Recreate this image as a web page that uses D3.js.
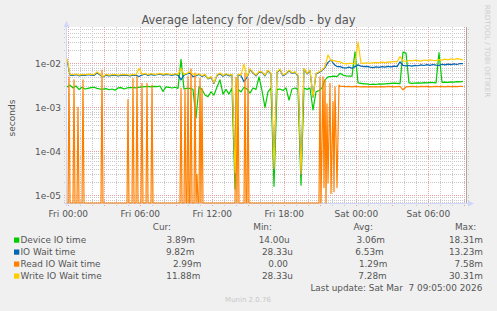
<!DOCTYPE html>
<html>
<head>
<meta charset="utf-8">
<script src="https://cdn.jsdelivr.net/npm/d3@7"></script>
<style>
  body { margin: 0; background: #f0f0f0; }
  text { font-family: "DejaVu Sans", sans-serif; }
</style>
</head>
<body>
<svg id="chart" width="497" height="311"></svg>
<script>
// samples every 15 minutes, values in milliseconds (plotted as seconds)
var startTime = new Date(2026, 2, 5, 23, 53, 20);
var stepSec = 900;

var deviceIO = [
  2.9, 3.2, 2.75, 3.05, 2.55, 2.85, 2.6, 2.7, 2.8, 2.85,
  2.7, 2.6, 2.6, 2.65, 2.5, 2.6, 2.45, 2.75, 2.8, 2.6,
  2.75, 2.8, 2.8, 2.75, 2.85, 2.9, 2.95, 3.0, 2.9, 3.0,
  2.95, 3.05, 2.3, 2.9, 2.85, 2.75, 2.85, 2.7, 12.3, 2.6,
  2.7, 2.7, 2.55, 0.57, 2.9, 2.55, 1.9, 1.75, 2.25, 1.9,
  2.9, 4.2, 2.0, 2.55, 2.0, 2.75, 0.014, 2.55, 2.25, 2.85,
  2.6, 2.1, 2.75, 2.55, 4.9, 2.4, 1.0, 2.25, 2.75, 0.016,
  2.55, 2.6, 2.4, 2.75, 1.46, 2.6, 2.75, 2.55, 0.017, 2.75,
  2.55, 2.75, 0.87, 2.25, 2.4, 2.75, 4.2, 4.9, 5.0, 5.1,
  5.0, 5.9, 5.4, 5.2, 5.1, 5.1, 18.3, 3.6, 3.5, 3.4,
  3.4, 3.3, 3.35, 3.3, 3.4, 3.35, 3.4, 3.45, 3.5, 3.55,
  3.5, 3.45, 18.0, 17.0, 3.6, 3.5, 3.55, 3.6, 3.55, 3.65,
  3.6, 3.7, 3.65, 3.6, 17.4, 3.7, 3.75, 3.7, 3.8, 3.75,
  3.85, 3.8, 3.89
];

var ioWait = [
  12.0, 5.4, 5.3, 5.5, 5.2, 5.4, 5.3, 5.5, 5.4, 5.3,
  6.1, 5.4, 4.9, 5.4, 5.2, 5.3, 5.4, 5.2, 5.3, 5.4,
  5.3, 5.2, 5.4, 5.3, 5.0, 5.4, 5.7, 5.3, 5.6, 5.4,
  5.5, 5.7, 5.4, 5.6, 5.5, 5.3, 5.6, 5.4, 4.2, 5.4,
  5.7, 6.0, 5.0, 5.2, 5.6, 5.0, 5.4, 4.4, 4.8, 3.5,
  5.3, 5.8, 5.1, 5.6, 5.2, 5.4, 0.031, 5.5, 5.2, 3.8,
  4.8, 7.2, 6.0, 5.2, 6.3, 6.2, 5.2, 6.8, 5.7, 0.039,
  6.2, 7.1, 5.2, 5.7, 6.8, 5.9, 6.2, 5.2, 0.029, 7.5,
  5.7, 6.8, 1.7, 5.7, 6.2, 6.8, 8.0, 10.5, 11.9, 9.5,
  8.4, 8.4, 8.0, 7.8, 8.2, 7.7, 8.4, 9.2, 8.6, 8.4,
  8.5, 8.2, 8.0, 8.3, 8.1, 8.4, 8.2, 8.5, 8.3, 8.6,
  8.4, 10.8, 9.0, 8.7, 8.9, 8.6, 9.0, 8.8, 9.2, 8.9,
  9.3, 9.0, 9.4, 9.1, 8.9, 9.5, 9.2, 9.6, 9.3, 9.7,
  9.4, 9.9, 9.82
];

// read wait is mostly idle: [minutes after start, ms]
var readWait = [
  [0, 0], [5, 0], [10, 4.9], [15, 0], [30, 0], [35, 4.2], [40, 0],
  [50, 0], [55, 1.0], [60, 0], [75, 0], [80, 4.2], [85, 0],
  [170, 0], [175, 7.0], [180, 0], [300, 0], [305, 1.5], [310, 0],
  [325, 0], [330, 4.5], [335, 0], [345, 0], [350, 5.0], [355, 0],
  [370, 0], [375, 3.5], [380, 0], [395, 0], [400, 3.5], [405, 0],
  [420, 0], [425, 3.2], [430, 0],
  [565, 0], [570, 2.7], [575, 0], [585, 0], [590, 2.5], [595, 0],
  [600, 0], [605, 5.0], [610, 0], [615, 0], [620, 7.5], [625, 0],
  [635, 0], [640, 6.0], [645, 0], [650, 0.03], [655, 0],
  [660, 0], [665, 4.6], [670, 0], [675, 2.7], [680, 0],
  [840, 0], [845, 4.8], [850, 0], [855, 4.0], [860, 0],
  [885, 0], [890, 6.0], [895, 0], [900, 0], [905, 4.5], [910, 0],
  [1260, 0], [1265, 4.9], [1270, 0], [1280, 4.95], [1285, 0.015],
  [1290, 4.2], [1295, 0], [1300, 1.2], [1305, 0.019], [1315, 3.5],
  [1320, 0.011], [1330, 1.34], [1335, 0.012], [1340, 2.9], [1350, 0.015],
  [1360, 3.2], [1365, 3.0], [1380, 3.0], [1395, 2.95], [1410, 3.0],
  [1425, 2.9], [1440, 3.0], [1455, 2.95], [1470, 2.9], [1485, 2.95],
  [1500, 2.9], [1515, 2.95], [1530, 2.9], [1545, 2.95], [1560, 2.9],
  [1575, 2.95], [1590, 2.9], [1605, 3.0], [1620, 2.95], [1635, 2.9],
  [1650, 2.95], [1665, 3.0], [1680, 2.5], [1695, 2.9], [1710, 2.95],
  [1725, 3.0], [1740, 2.95], [1755, 2.9], [1770, 3.0], [1785, 2.95],
  [1800, 3.0], [1815, 2.9], [1830, 2.95], [1845, 3.0], [1860, 2.95],
  [1875, 3.0], [1890, 2.9], [1905, 3.0], [1920, 2.95], [1935, 3.0],
  [1950, 2.95], [1965, 3.0], [1980, 2.99]
];

var writeWait = [
  13.0, 5.6, 5.5, 5.7, 5.4, 5.6, 5.5, 5.7, 5.6, 5.5,
  6.4, 5.6, 5.0, 5.6, 5.4, 5.5, 5.6, 5.4, 5.5, 5.6,
  5.5, 5.4, 5.6, 5.5, 7.7, 5.6, 5.9, 5.5, 5.8, 5.6,
  5.7, 5.9, 5.6, 5.8, 5.7, 5.5, 5.8, 5.6, 7.6, 5.6,
  5.9, 6.4, 5.7, 5.4, 5.8, 5.2, 5.6, 4.5, 5.0, 3.6,
  5.5, 6.0, 5.3, 5.8, 5.4, 5.6, 0.032, 5.7, 5.4, 9.6,
  5.0, 7.5, 6.2, 5.4, 6.5, 6.4, 5.4, 7.0, 5.9, 0.04,
  6.4, 7.3, 5.4, 5.9, 7.0, 6.1, 6.4, 5.4, 0.03, 7.7,
  5.9, 7.0, 1.75, 5.9, 6.4, 7.0, 8.4, 15.5, 11.5, 11.5,
  10.9, 10.9, 10.0, 9.7, 10.0, 10.0, 9.7, 30.3, 10.2, 10.0,
  10.3, 10.0, 10.3, 10.5, 10.2, 10.6, 10.4, 10.8, 10.6, 11.0,
  10.8, 14.2, 11.4, 11.0, 11.6, 11.3, 11.8, 11.5, 11.2, 11.9,
  11.6, 12.0, 11.7, 11.5, 12.1, 11.8, 12.4, 12.0, 12.6, 12.2,
  12.8, 12.4, 11.88
];

var seriesNames = ["Device IO time", "IO Wait time", "Read IO Wait time", "Write IO Wait time"];
var seriesColors = ["#00cc00", "#0066b3", "#ff8000", "#ffcc00"];

// legend statistics, seconds
var curStats = [3.89e-3, 9.82e-3, 2.99e-3, 11.88e-3];
var minStats = [14.00e-6, 28.33e-6, 0, 28.33e-6];
var avgStats = [3.06e-3, 6.53e-3, 1.29e-3, 7.28e-3];
var maxStats = [18.31e-3, 13.23e-3, 7.58e-3, 30.31e-3];
var statHeaders = ["Cur:", "Min:", "Avg:", "Max:"];
var lastUpdate = "Last update: Sat Mar  7 09:05:00 2026";

var svg = d3.select("#chart");
var plot = {left: 67, top: 27, right: 467, bottom: 203};

var x = d3.scaleTime()
    .domain([startTime, new Date(+startTime + 400 * 300 * 1000)])
    .range([plot.left, plot.right]);

var y = d3.scaleLog()
    .domain([Math.pow(10, -5.175), Math.pow(10, -1.175)])
    .range([plot.bottom, plot.top]);

// canvas
svg.append("rect")
    .attr("x", plot.left).attr("y", plot.top)
    .attr("width", plot.right - plot.left).attr("height", plot.bottom - plot.top)
    .attr("fill", "#ffffff");

// grid: decades major, 2..9 minor; hours minor, every 3h major
var minorY = [], majorY = [];
for (var k = -6; k <= -1; k++) {
  for (var m = 1; m <= 9; m++) {
    var v = m * Math.pow(10, k);
    if (v < y.domain()[0] || v > y.domain()[1]) continue;
    if (m === 1) majorY.push(v); else minorY.push(v);
  }
}
var hours = d3.timeHour.range(x.domain()[0], x.domain()[1]);
var minorX = hours.filter(function(d) { return d.getHours() % 3 !== 0; });
var majorX = hours.filter(function(d) { return d.getHours() % 3 === 0; });

function hy(v) { return Math.round(y(v)) + 0.5; }
function vx(t) { return Math.round(x(t)) + 0.5; }

svg.append("g").selectAll("line").data(minorY).enter().append("line")
    .attr("x1", 64).attr("x2", 470)
    .attr("y1", hy).attr("y2", hy)
    .attr("stroke", "#c8c8c8").attr("stroke-dasharray", "1,1");

svg.append("g").selectAll("line").data(minorX).enter().append("line")
    .attr("x1", vx).attr("x2", vx)
    .attr("y1", plot.top).attr("y2", plot.bottom + 3)
    .attr("stroke", "#c8c8c8").attr("stroke-dasharray", "1,1");

svg.append("g").selectAll("line").data(majorY).enter().append("line")
    .attr("x1", 64).attr("x2", 470)
    .attr("y1", hy).attr("y2", hy)
    .attr("stroke", "#eaa0a0").attr("stroke-dasharray", "1,1");

svg.append("g").selectAll("line").data(majorX).enter().append("line")
    .attr("x1", vx).attr("x2", vx)
    .attr("y1", plot.top).attr("y2", plot.bottom + 3)
    .attr("stroke", "#eaa0a0").attr("stroke-dasharray", "1,1");

// axes + arrows
svg.append("line")
    .attr("x1", 64).attr("x2", 470)
    .attr("y1", plot.bottom + 0.5).attr("y2", plot.bottom + 0.5)
    .attr("stroke", "#cfd6f8");
svg.append("line")
    .attr("x1", plot.left - 0.5).attr("x2", plot.left - 0.5)
    .attr("y1", plot.bottom + 3).attr("y2", 24)
    .attr("stroke", "#cfd6f8");
svg.append("path")
    .attr("d", "M468,200.5L474,203.5L468,206.5Z")
    .attr("fill", "#cfd6f8");
svg.append("path")
    .attr("d", "M63.5,27L66.5,21L69.5,27Z")
    .attr("fill", "#cfd6f8");
svg.append("line")
    .attr("x1", 466.5).attr("x2", 466.5)
    .attr("y1", plot.top).attr("y2", plot.bottom)
    .attr("stroke", "#a8a8a8");

// tick labels
var labelHours = hours.filter(function(d) { return d.getHours() % 6 === 0; });
var fmt = d3.timeFormat("%a %H:%M");
svg.append("g").selectAll("text").data(labelHours).enter().append("text")
    .attr("x", function(d) { return x(d); })
    .attr("y", 217)
    .attr("text-anchor", "middle")
    .attr("font-size", "9px")
    .attr("fill", "#555")
    .text(fmt);

svg.append("g").selectAll("text").data(majorY).enter().append("text")
    .attr("x", 61)
    .attr("y", function(d) { return y(d) + 3.4; })
    .attr("text-anchor", "end")
    .attr("font-size", "9px")
    .attr("fill", "#555")
    .text(function(d) {
      var e = Math.round(Math.log10(d));
      return "1e-" + String(-e).padStart(2, "0");
    });

// data lines
svg.append("clipPath").attr("id", "plotclip")
  .append("rect")
    .attr("x", plot.left).attr("y", plot.top - 1)
    .attr("width", plot.right - plot.left).attr("height", plot.bottom - plot.top + 2);

function yv(d) { return d > 0 ? y(d / 1000) : plot.bottom; }

var gridLine = d3.line()
    .x(function(d, i) { return x(new Date(+startTime + i * stepSec * 1000)); })
    .y(yv);

var pairLine = d3.line()
    .x(function(d) { return x(new Date(+startTime + d[0] * 60000)); })
    .y(function(d) { return yv(d[1]); });

var allSeries = [
  {d: gridLine(deviceIO), c: seriesColors[0]},
  {d: gridLine(ioWait), c: seriesColors[1]},
  {d: pairLine(readWait), c: seriesColors[2]},
  {d: gridLine(writeWait), c: seriesColors[3]}
];
svg.append("g").attr("clip-path", "url(#plotclip)")
  .selectAll("path").data(allSeries).enter().append("path")
    .attr("d", function(s) { return s.d; })
    .attr("fill", "none")
    .attr("stroke", function(s) { return s.c; })
    .attr("stroke-width", 1.2)
    .attr("stroke-linejoin", "round");

// titles
svg.append("text")
    .attr("x", 248.5).attr("y", 23.7)
    .attr("text-anchor", "middle")
    .attr("font-size", "11.4px")
    .attr("fill", "#555")
    .text("Average latency for /dev/sdb - by day");

svg.append("text")
    .attr("transform", "translate(15,118) rotate(-90)")
    .attr("text-anchor", "middle")
    .attr("font-size", "9px")
    .attr("fill", "#555")
    .text("seconds");

svg.append("text")
    .attr("transform", "translate(484.5,51) rotate(90)")
    .attr("text-anchor", "middle")
    .attr("font-size", "7.2px")
    .attr("fill", "#cfcfcf")
    .text("RRDTOOL / TOBI OETIKER");

// legend
function siFormat(v) {
  if (v === 0) return "0.00";
  var prefixes = {"-9": "n", "-6": "u", "-3": "m", "0": ""};
  var e = Math.floor(Math.log10(v) / 3) * 3;
  return (v / Math.pow(10, e)).toFixed(2) + prefixes[String(e)];
}

var headerRight = [171, 272, 373, 476.3];
svg.append("g").selectAll("text").data(statHeaders).enter().append("text")
    .attr("x", function(d, i) { return headerRight[i]; })
    .attr("y", 230.3)
    .attr("text-anchor", "end")
    .attr("font-size", "8.9px")
    .attr("fill", "#555")
    .text(function(d) { return d; });

// right edges of the value columns, per legend row
var valueRight = [
  [195, 289.7, 385, 483],
  [194.3, 293, 383.7, 483],
  [201.3, 288, 387.3, 483],
  [200.3, 293, 386.7, 483]
];

var rows = svg.append("g").selectAll("g").data(seriesNames).enter().append("g")
    .attr("transform", function(d, i) { return "translate(0," + (242.7 + i * 12) + ")"; });

rows.append("rect")
    .attr("x", 14).attr("y", -5.2)
    .attr("width", 5.3).attr("height", 5.2)
    .attr("fill", function(d, i) { return seriesColors[i]; });

rows.append("text")
    .attr("x", 20.5).attr("y", 0)
    .attr("font-size", "8.9px")
    .attr("fill", "#555")
    .text(function(d) { return d; });

rows.each(function(name, r) {
  var vals = [curStats[r], minStats[r], avgStats[r], maxStats[r]];
  d3.select(this).selectAll("text.val").data(vals).enter().append("text")
      .attr("class", "val")
      .attr("x", function(d, c) { return valueRight[r][c]; })
      .attr("y", 0)
      .attr("text-anchor", "end")
      .attr("font-size", "8.9px")
      .attr("fill", "#555")
      .text(siFormat);
});

svg.append("text")
    .attr("x", 482.3).attr("y", 291)
    .attr("text-anchor", "end")
    .attr("font-size", "8.9px")
    .attr("fill", "#555")
    .style("white-space", "pre")
    .text(lastUpdate);

svg.append("text")
    .attr("x", 248).attr("y", 301.5)
    .attr("text-anchor", "middle")
    .attr("font-size", "7px")
    .attr("fill", "#c8c8c8")
    .text("Munin 2.0.76");
</script>
</body>
</html>
